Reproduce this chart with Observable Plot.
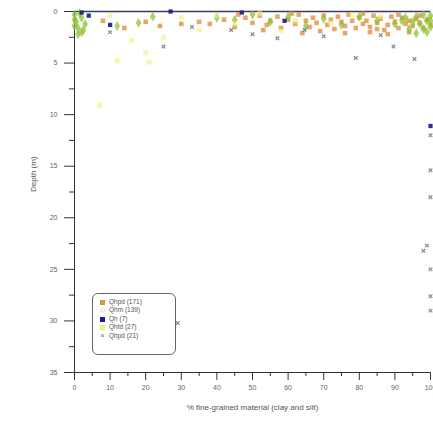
<!DOCTYPE html>
<html><head><meta charset="utf-8">
<script src="https://cdn.jsdelivr.net/npm/d3@7"></script>
<script src="https://cdn.jsdelivr.net/npm/@observablehq/plot@0.6"></script>
<style>
body{margin:0;background:#fff;font-family:Arial,"Liberation Sans",sans-serif}
#wrap{position:relative;width:433px;height:422px}
#legend{position:absolute;left:92px;top:293px;width:84px;height:62px;border:1px solid #666;border-radius:6px;box-sizing:border-box;padding:4px 0 0 6px;font-size:6.5px;color:#555;line-height:8.4px;background:#fff}
#legend .row{display:flex;align-items:center;white-space:nowrap}
#legend .sw{display:inline-block;width:7px;text-align:center;margin-right:3px}
</style></head>
<body><div id="wrap"><div id="chart"></div><div id="legend"></div></div>
<script>
const seriesNames = ["Qhpd (171)", "Qhm (139)", "Qh (7)", "Qhtd (27)", "Qhpd (21)"];
const xTicks = [0,10,20,30,40,50,60,70,80,90,100];
const yTicks = [0,5,10,15,20,25,30,35];

const qhpdA = [[35,1.0],[38,1.2],[42,0.8],[45,1.5],[48,0.6],[50,1.1],[52,0.4],[54,1.3],[55,0.9],[57,0.5],[58,1.6],[60,0.8],[62,1.2],[63,0.3],[65,0.9],[66,1.5],[67,0.6],[68,1.1],[70,0.4],[71,1.3],[72,0.8],[73,1.7],[74,0.5],[75,1.0],[76,1.4],[77,0.3],[78,0.9],[79,1.6],[80,0.6],[81,1.2],[82,0.9],[83,1.5],[84,0.4],[85,1.1],[86,0.7],[87,1.8],[88,1.3],[89,0.5],[90,1.0],[91,1.6],[92,0.6],[93,1.2],[94,0.9],[95,1.4],[96,0.7],[97,1.1],[98,1.6],[99,0.8],[100,1.3],[83,2.0],[88,2.2],[76,2.1],[20,1.0],[24,1.4],[14,1.6],[30,1.2],[8,0.9],[61,0.2],[69,1.9],[81,0.2],[85,1.7],[91,0.3],[94,2.0],[97,0.4],[64,2.1],[53,1.8],[46,0.3]];
const qhm = [[0,0.3],[0.5,1.0],[1,1.6],[1,2.2],[2,0.6],[3,1.2],[0,0.8],[1.5,0.2],[2.5,1.8],[96,0.5],[97,1.2],[98,0.3],[99,0.9],[100,1.5],[100,0.4],[95,1.0],[93,0.6],[94,1.7],[92,0.9],[99,2.0],[60,0.5],[55,1.0],[45,0.8],[70,0.7],[75,1.3],[80,0.5],[85,0.9],[90,1.2],[65,1.4],[50,0.3],[40,0.6],[18,1.1],[22,0.5],[12,1.4],[98,1.7],[96,2.1],[100,0.9],[0,1.4],[2,2.0]];
const qh = [[4,0.4],[27,0],[47,0.1],[10,1.3],[59,0.9],[100,11.1],[2,0.1]];
const qhtd = [[12,4.8],[21,4.9],[7,9.1],[16,2.8],[25,2.5],[30,0.6],[40,0.4],[52,0.2],[62,0.9],[78,0.3],[86,0.5],[35,1.8],[10,0.4],[20,4.0],[58,1.9],[72,1.1],[45,1.2]];
const qhpdB = [[25,3.4],[44,1.8],[64.6,1.8],[79,4.5],[95.5,4.6],[89.6,3.4],[86,2.3],[99,22.7],[98,23.2],[100,15.4],[100,27.6],[100,29],[29,30.2],[100,25],[100,18],[100,12],[10,2],[50,2.2],[70,2.4],[33,1.5],[57,2.6]];

const styles = [
  {data:qhpdA, symbol:"square", fill:"#d9842a", stroke:"none", r:2.6, op:0.7},
  {data:qhm, symbol:"diamond", fill:"#8cc232", stroke:"none", r:3, op:0.75},
  {data:qh, symbol:"square", fill:"#1c1a86", stroke:"none", r:2.4, op:0.9},
  {data:qhtd, symbol:"square", fill:"#eef07a", stroke:"none", r:2.8, op:0.6},
  {data:qhpdB, symbol:"times", fill:"none", stroke:"#666a80", r:1.8, op:0.8}
];

const marks = [
  Plot.ruleY([0], {stroke:"#3a3a5a", strokeWidth:1.5}),
  Plot.ruleX([0], {stroke:"#333"}),
  Plot.ruleY([35], {stroke:"#333"}),
  Plot.axisY({ticks:yTicks, tickSize:10, tickPadding:7, fontSize:7, fill:"#666", stroke:"#333", label:null}),
  Plot.axisY({ticks:d3.range(2.5,35,5), tickSize:5, text:null, stroke:"#333", label:null}),
  Plot.axisX({ticks:xTicks, tickSize:8, tickPadding:5, fontSize:7, fill:"#666", stroke:"#333", label:null}),
  Plot.axisX({ticks:d3.range(5,100,10), tickSize:4, text:null, stroke:"#333", label:null}),
  Plot.text(["Depth (m)"], {frameAnchor:"left", dx:-41, rotate:-90, fontSize:8, fill:"#555"}),
  Plot.text(["% fine-grained material (clay and silt)"], {frameAnchor:"bottom", dy:37, fontSize:8, fill:"#555"})
];
for (const s of styles) {
  marks.push(Plot.dot(s.data, {x:d=>d[0], y:d=>d[1], symbol:()=>s.symbol, r:s.r, fill:s.fill, stroke:s.stroke, fillOpacity:s.op, strokeOpacity:s.op, strokeWidth:1.2}));
}
const chart = Plot.plot({
  width:433, height:422,
  marginLeft:74, marginRight:3, marginTop:11, marginBottom:50,
  x:{domain:[0,100]},
  y:{domain:[0,35], reverse:true},
  symbol:{type:"identity"},
  style:{fontFamily:"Arial, 'Liberation Sans', sans-serif", background:"#fff", overflow:"visible"},
  marks
});
document.getElementById("chart").append(chart);

const swatches = [
  '<span class="sw" style="background:#c8a040;width:5px;height:5px;margin:0 4px 0 1px"></span>',
  '<span class="sw" style="color:#b0c870;font-size:7px">&#9671;</span>',
  '<span class="sw" style="background:#1c1aa6;width:5px;height:5px;margin:0 4px 0 1px"></span>',
  '<span class="sw" style="background:#eef07a;width:5px;height:5px;margin:0 4px 0 1px"></span>',
  '<span class="sw" style="color:#555a80;font-size:7px">&#215;</span>'
];
const lg = document.getElementById("legend");
seriesNames.forEach((n,i)=>{
  const r = document.createElement("div"); r.className="row";
  r.innerHTML = swatches[i] + '<span>'+n+'</span>';
  lg.append(r);
});
</script></body></html>
